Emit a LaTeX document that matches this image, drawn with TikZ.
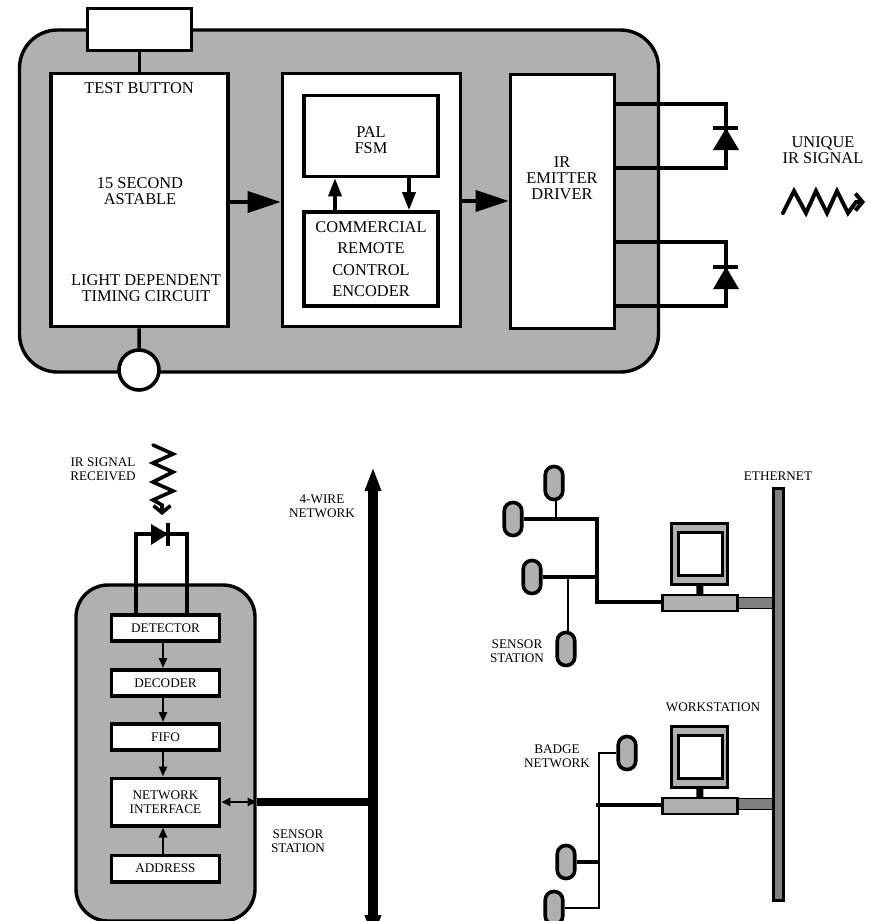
\documentclass[tikz,border=0pt]{standalone}
\usepackage{xcolor}
\usepackage{fontspec}
\setmainfont{Liberation Serif}
\usepackage{tikz}
\usetikzlibrary{arrows.meta,positioning}
\definecolor{panelgray}{RGB}{176,176,176}
\definecolor{bargray}{RGB}{128,128,128}
\newcommand{\bigtext}{\fontsize{16.4}{16}\selectfont}
\newcommand{\smalltext}{\fontsize{13.2}{14}\selectfont}
\begin{document}
\begin{tikzpicture}[x=1pt,y=-1pt,>=Triangle,line join=miter]
\tikzstyle{panel}=[draw,fill=panelgray,line width=3.4pt,inner sep=0pt]
\tikzstyle{box}=[draw,fill=white,line width=3.6pt,inner sep=0pt,align=center,font=\bigtext]
\tikzstyle{smallbox}=[draw,fill=white,line width=3.6pt,inner sep=0pt,align=center,font=\smalltext,minimum width=108pt]
\tikzstyle{txt}=[inner sep=0pt,align=center,font=\bigtext]
\tikzstyle{smalltxt}=[inner sep=0pt,align=center,font=\smalltext]
\tikzstyle{wire}=[line width=3.6pt]
\tikzstyle{thinwire}=[line width=2.6pt]
\tikzstyle{bigarrow}=[line width=3.6pt,-{Triangle[length=33pt,width=21pt]}]
\tikzstyle{midarrow}=[line width=3.6pt,-{Triangle[length=18pt,width=13pt]}]
\tikzstyle{tinyarrow}=[line width=2.4pt,-{Triangle[length=10pt,width=8pt]}]
\tikzstyle{sensor}=[draw,fill=panelgray,line width=3.6pt,rounded corners=8.5pt,minimum width=17.5pt,minimum height=33pt,inner sep=0pt]
\path[use as bounding box,clip] (0,0) rectangle (870,921);
% emitter badge
\node[panel,rounded corners=38pt,minimum width=639pt,minimum height=342pt] (badge) at (339,201) {};
\node[box,minimum width=104pt,minimum height=42pt] (button) at (139.5,29.5) {};
\node[box,minimum width=177pt,minimum height=253pt] (astable) at (139.5,200) {};
\node[box,minimum width=178pt,minimum height=253pt] (middle) at (371.5,200) {};
\node[box,minimum width=134pt,minimum height=81pt] (pal) at (371,136) {};
\node[box,minimum width=134pt,minimum height=94pt,font=\fontsize{16.4}{21.3}\selectfont] (encoder) at (371,259) {COMMERCIAL\\REMOTE\\CONTROL\\ENCODER};
\node[box,minimum width=104pt,minimum height=254pt] (driver) at (562.5,201.5) {};
\node[draw,fill=white,line width=3.6pt,circle,inner sep=0pt,minimum size=40pt] (photo) at (139,370) {};
\node[txt] (pallbl) at (371,140) {PAL\\FSM};
\node[txt] (buttonlbl) at (139,88) {TEST BUTTON};
\node[txt] (astablelbl) at (140,191) {15 SECOND\\ASTABLE};
\node[txt] (timinglbl) at (146,288) {LIGHT DEPENDENT\\TIMING CIRCUIT\hspace{13pt}};
\node[txt] (driverlbl) at (562,178) {IR\\EMITTER\\DRIVER};
\node[txt] (uniquelbl) at (823,150) {UNIQUE\\IR SIGNAL};
\draw[wire] (button) -- (astable);
\draw[wire] (astable) -- (photo);
\draw[bigarrow] (astable.east |- 0,202) -- (middle.west |- 0,202);
\draw[bigarrow] (middle.east |- 0,201) -- (driver.west |- 0,201);
\draw[midarrow] ([xshift=-36pt]encoder.north) -- ([xshift=-36pt]pal.south);
\draw[midarrow] ([xshift=38pt]pal.south) -- ([xshift=38pt]encoder.north);
% emitter diodes
\foreach \n/\ya/\yb/\yc in {a/104/128/168,b/242/267/306} {
  \coordinate (top\n) at (726,\ya);
  \coordinate (bot\n) at (726,\yc);
  \draw[wire] (driver.east |- top\n) -- (top\n) -- (bot\n) -- (driver.east |- bot\n);
  \fill (713,\yb+22) -- (739,\yb+22) -- (726,\yb) -- cycle;
  \draw[wire] (713,\yb) -- (738,\yb);
}
\draw[line width=4pt,line cap=round,-{Straight Barb[length=7pt,width=17pt]}] (783,213) -- (794,191) -- (806,213) -- (816,191) -- (827,213) -- (837,191) -- (848,213) -- (856,202) -- (865,202);
% sensor station
\node[panel,rounded corners=32pt,minimum width=179pt,minimum height=336pt] (station) at (165.5,753) {};
\node[smallbox,minimum height=26.4pt] (detector) at (165.5,628) {DETECTOR};
\node[smallbox,minimum height=26.4pt,below=25pt of detector] (decoder) {DECODER};
\node[smallbox,minimum height=26.4pt,below=24pt of decoder] (fifo) {FIFO};
\node[smallbox,minimum height=47.4pt,below=24.5pt of fifo] (netif) {NETWORK\\INTERFACE};
\node[smallbox,minimum height=26.4pt,below=26pt of netif] (address) {ADDRESS};
\draw[tinyarrow] ([xshift=-2.5pt]detector.south) -- ([xshift=-2.5pt]decoder.north);
\draw[tinyarrow] ([xshift=-2.5pt]decoder.south) -- ([xshift=-2.5pt]fifo.north);
\draw[tinyarrow] ([xshift=-2.5pt]fifo.south) -- ([xshift=-2.5pt]netif.north);
\draw[tinyarrow] ([xshift=-2.5pt]address.north) -- ([xshift=-2.5pt]netif.south);
\coordinate (bustop) at (373,467);
\coordinate (busbot) at (373,939);
\draw[line width=10.5pt,{Triangle[length=24pt,width=15pt]}-{Triangle[length=24pt,width=15pt]}] (busbot) -- (bustop);
\draw[line width=8pt] (station.east |- netif) -- (netif -| bustop);
\draw[line width=2.4pt,{Triangle[length=9pt,width=8pt]}-{Triangle[length=9pt,width=8pt]}] (netif.east) -- (station.east |- netif);
\coordinate (recvleft) at (136,534);
\coordinate (recvright) at (187,534);
\draw[wire] (detector.north -| recvleft) -- (recvleft) -- (recvright) -- (detector.north -| recvright);
\fill (151,524) -- (151,545) -- (168,534) -- cycle;
\draw[wire] (168,523) -- (168,546);
\draw[line width=3.6pt,line cap=round,-{Straight Barb[length=7pt,width=17pt]}] (153,445) -- (173,454) -- (153,463) -- (173,472) -- (153,482) -- (173,491) -- (153,500) -- (162,505) -- (162,515);
\node[smalltxt] (receivedlbl) at (103,469.5) {IR SIGNAL\\RECEIVED};
\node[smalltxt] (wirelbl) at (322,506) {4-WIRE\\NETWORK};
\node[smalltxt] (stationlbl) at (298,841.5) {SENSOR\\STATION};
% ethernet and workstations
\foreach \n/\s/\l in {a/0/603,b/203/804} {
  \node[draw,fill=panelgray,line width=3.2pt,inner sep=0pt,minimum width=56pt,minimum height=61pt] (mon\n) at (699.5,554+\s) {};
  \node[draw,fill=white,line width=3pt,inner sep=0pt,minimum width=44pt,minimum height=43pt] (screen\n) at (700,553.5+\s) {};
  \node[draw,fill=panelgray,line width=2.4pt,inner sep=0pt,minimum width=75pt,minimum height=16pt] (base\n) at (700,603+\s) {};
  \draw[line width=7pt] (mon\n) -- (base\n);
  \node[draw,fill=bargray,line width=1.5pt,inner sep=0pt,minimum width=35pt,minimum height=11pt] (link\n) at (755.5,\l) {};
}
\node[draw,fill=bargray,line width=2.2pt,inner sep=0pt,minimum width=10pt,minimum height=412pt] (ether) at (778.5,694.5) {};
\node[sensor] (sa) at (554,483) {};
\node[sensor] (sb) at (513,519) {};
\node[sensor] (sc) at (532,577) {};
\node[sensor] (sd) at (566,649) {};
\node[sensor] (se) at (627,753) {};
\node[sensor] (sf) at (566,862) {};
\node[sensor] (sg) at (554,908) {};
\coordinate (hubtop) at (597,519);
\coordinate (hubmid) at (597,577);
\coordinate (hubbot) at (597,602);
\coordinate (badgetop) at (599,753);
\coordinate (badgemid) at (599,805);
\coordinate (badgelow) at (599,862);
\coordinate (badgebot) at (599,908);
\draw[wire] (sb) -- (hubtop) -- (hubbot) -- (hubbot -| basea.west);
\draw[wire] (sc) -- (hubmid);
\draw[thinwire] (sa.south -| 556,0) -- (556,519);
\draw[thinwire] (568,577) -- (sd.north -| 568,0);
\draw[thinwire] (se) -- (badgetop) -- (badgebot) -- (sg);
\draw[wire] (badgelow) -- (sf);
\draw[wire] ([xshift=-3pt]badgemid) -- (badgemid -| baseb.west);
\node[smalltxt] (etherlbl) at (778,476) {ETHERNET};
\node[smalltxt] (worklbl) at (713,707) {WORKSTATION};
\node[smalltxt] (sensorlbl) at (517,651) {SENSOR\\STATION};
\node[smalltxt] (badgelbl) at (557,756) {BADGE\\NETWORK};
\end{tikzpicture}
\end{document}
